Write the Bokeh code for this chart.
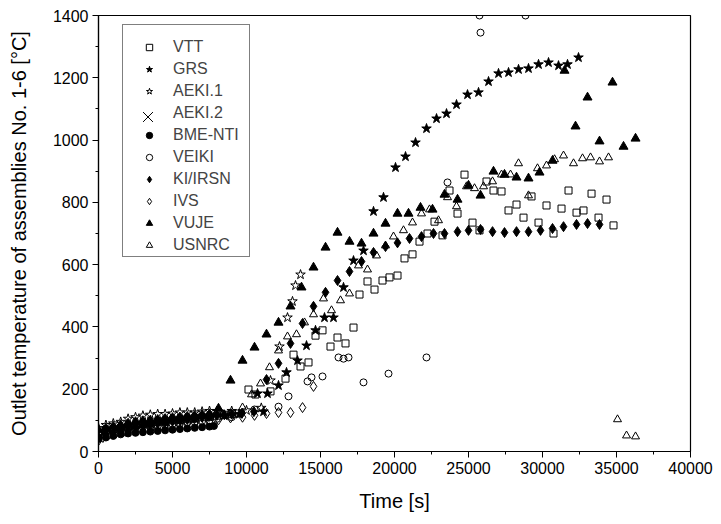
from bokeh.plotting import figure
from bokeh.models import Range1d, SingleIntervalTicker, Legend, LegendItem, ColumnDataSource
from bokeh.embed import file_html
from bokeh.resources import INLINE

# ---------------- data (time [s], temperature [°C]) ----------------
vtt_t = [0, 500, 1000, 1500, 2000, 2500, 3000, 3500, 4000, 4500, 5000, 5500, 6000, 6500, 7000, 7500, 8000, 8500, 9000, 9500,
         10135, 10608, 11622, 12636, 13176, 13650, 14190, 14663, 15136, 15676, 16149, 16690, 17230, 17636, 18176, 18649,
         19190, 19663, 20203, 20676, 21217, 21690, 22230, 22703, 23244, 23717, 24258, 24730, 25271, 25744, 26217, 26690,
         27231, 27704, 28244, 28717, 29258, 29731, 30271, 30744, 31285, 31758, 32299, 32771, 33313, 33785, 34325, 34798]
vtt_v = [60, 68, 72, 75, 80, 85, 88, 90, 95, 98, 100, 102, 105, 108, 110, 112, 115, 118, 120, 122,
         199, 183, 193, 234, 311, 273, 286, 372, 389, 337, 366, 347, 398, 504, 546, 520,
         549, 559, 565, 620, 633, 674, 700, 738, 694, 838, 764, 889, 735, 710, 867, 838,
         835, 774, 793, 751, 819, 735, 790, 700, 780, 838, 767, 774, 828, 751, 809, 726]

grs_t = [500, 1500, 2500, 3500, 4500, 5500, 6500, 7500, 8500, 9500, 10744, 11149, 11419, 12163, 12703, 13447, 14055,
         14663, 15271, 15879, 16555, 17230, 17906, 18582, 19257, 20068, 20744, 21420, 22163, 22839, 23514, 24190,
         24933, 25677, 26353, 27028, 27704, 28380, 29055, 29731, 30407, 31082, 31690, 32433]
grs_v = [65, 75, 85, 90, 95, 100, 105, 110, 115, 120, 186, 128, 186, 212, 254, 292, 340,
         389, 430, 430, 527, 613, 645, 771, 816, 912, 947, 992, 1037, 1069, 1085, 1114,
         1146, 1153, 1188, 1214, 1217, 1227, 1230, 1243, 1249, 1239, 1243, 1265]

aeki1_t = [0, 500, 1000, 1500, 2000, 2500, 3000, 3500, 4000, 4500, 5000, 5500, 6000, 6500, 7000, 7500, 8000, 9000,
           10000, 11000, 11622, 12230, 12771, 13108, 13311, 13650]
aeki1_v = [75, 85, 90, 95, 105, 110, 115, 118, 120, 120, 122, 125, 125, 125, 128, 130, 130, 130,
           132, 140, 228, 337, 430, 482, 533, 568]

aeki2_t = [0, 150, 300, 450]
aeki2_v = [45, 65, 55, 70]

bme_t = [0, 500, 1000, 1500, 2000, 2500, 3000, 3500, 4000, 4500, 5000, 5500, 6000, 6500, 7000, 7500, 7800]
bme_v = [40, 45, 50, 55, 58, 60, 62, 64, 66, 68, 70, 72, 74, 76, 78, 80, 82]

veiki_t = [0, 200, 500, 1000, 1500, 2000, 2500, 3000, 3500, 4000, 4500, 5000, 5500, 6000, 6500, 7000, 7500, 8000, 9000,
           10541, 12163, 12838, 14122, 14393, 15136, 16217, 16555, 16893, 17906, 19595, 22163, 23582, 25812,
           25744, 28852]
veiki_v = [42, 55, 60, 65, 68, 72, 75, 78, 80, 82, 85, 88, 90, 92, 95, 98, 100, 105, 110,
           135, 144, 177, 225, 238, 241, 302, 298, 302, 222, 250, 302, 864, 1345,
           1400, 1400]

ki_t = [0, 500, 1000, 1500, 2000, 2500, 3000, 3500, 4000, 4500, 5000, 5500, 6000, 6500, 7000, 7500, 8000, 8500, 9000,
        9700, 10500, 11352, 12163, 12973, 13785, 14528, 15339, 16149, 16960, 17771, 18582, 19392, 20203, 21014,
        21825, 22636, 23379, 24258, 25000, 25812, 26623, 27433, 28244, 29055, 29866, 30677, 31420, 32299, 33042, 33853]
ki_v = [48, 55, 62, 68, 72, 78, 82, 86, 90, 94, 97, 100, 103, 106, 110, 113, 116, 118, 120,
        123, 128, 231, 283, 347, 411, 466, 511, 549, 578, 610, 639, 658, 670, 684,
        690, 700, 700, 706, 710, 713, 706, 703, 706, 706, 710, 716, 722, 729, 732, 729]

ivs_t = [0, 300, 700, 1200, 1800, 2400, 3000, 3600, 4200, 4800, 5400, 6000, 6600, 7200, 8108, 8919, 9730, 10541,
         11352, 12163, 12973, 13785, 14528]
ivs_v = [35, 45, 55, 60, 65, 70, 75, 78, 82, 86, 90, 93, 96, 98, 102, 108, 110, 116,
         122, 125, 125, 141, 209]

vuje_t = [0, 500, 1000, 1500, 2000, 2500, 3000, 3500, 4000, 4500, 5000, 5500, 6000, 6500, 7000, 7500, 8108, 8919,
          9730, 10541, 11352, 12163, 12973, 13717, 14528, 15339, 16149, 16960, 17771, 18582, 19392, 20203, 20947,
          21757, 22568, 23379, 24258, 25000, 25812, 26690, 27433, 28244, 29055, 29798, 30677, 31488, 32231, 33042,
          33853, 34730, 35475, 36286]
vuje_v = [70, 75, 80, 85, 90, 95, 98, 100, 102, 105, 108, 110, 112, 115, 118, 120, 138, 228,
          292, 334, 376, 414, 466, 527, 591, 655, 703, 674, 668, 700, 732, 764, 764,
          783, 777, 825, 809, 854, 822, 899, 889, 880, 877, 896, 934, 1223, 1044, 1137,
          996, 1185, 979, 1005]

usnrc_t = [0, 400, 900, 1400, 1900, 2400, 2900, 3400, 3900, 4400, 4900, 5400, 5900, 6400, 6900, 7400, 7900, 8400,
           8900, 9730, 10338, 10946, 11554, 12163, 12771, 13379, 13920, 14528, 15203, 15744, 16352, 16960, 17568,
           18176, 18784, 19392, 19933, 20608, 21217, 21825, 22365, 22974, 23582, 24190, 24866, 25406, 26015, 26623,
           27231, 27839, 28380, 29055, 29663, 30271, 30812, 31420, 32096, 32704, 33245, 33853, 34461, 35069, 35677,
           36286]
usnrc_v = [60, 70, 75, 80, 85, 88, 92, 95, 98, 100, 103, 106, 108, 110, 112, 115, 118, 120,
           122, 141, 183, 218, 270, 324, 369, 376, 414, 440, 491, 453, 485, 507, 597,
           584, 629, 661, 690, 710, 735, 764, 777, 742, 816, 787, 851, 845, 851, 867,
           889, 889, 925, 822, 909, 918, 938, 950, 925, 941, 944, 931, 944, 103, 51,
           48]

series = [
    ("VTT", vtt_t, vtt_v, "square", 7, None),
    ("GRS", grs_t, grs_v, "star", 10, "black"),
    ("AEKI.1", aeki1_t, aeki1_v, "star", 10, None),
    ("AEKI.2", aeki2_t, aeki2_v, "x", 8, None),
    ("BME-NTI", bme_t, bme_v, "circle", 7, "black"),
    ("VEIKI", veiki_t, veiki_v, "circle", 7, None),
    ("KI/IRSN", ki_t, ki_v, "diamond", 10, "black"),
    ("IVS", ivs_t, ivs_v, "diamond", 10, None),
    ("VUJE", vuje_t, vuje_v, "triangle", 9, "black"),
    ("USNRC", usnrc_t, usnrc_v, "triangle", 8, None),
]

FONT = "Liberation Sans"

p = figure(width=721, height=524, output_backend="svg", toolbar_location=None,
           x_range=Range1d(0, 40000), y_range=Range1d(0, 1400),
           min_border_left=98, min_border_right=31, min_border_top=15, min_border_bottom=73)
p.xgrid.visible = False
p.ygrid.visible = False
p.outline_line_color = "black"
p.outline_line_width = 1.2
p.background_fill_color = "white"
p.border_fill_color = "white"

p.xaxis.ticker = SingleIntervalTicker(interval=5000, num_minor_ticks=2)
p.yaxis.ticker = SingleIntervalTicker(interval=200, num_minor_ticks=2)
for ax in (p.xaxis[0], p.yaxis[0]):
    ax.axis_line_color = "black"
    ax.axis_line_width = 1.2
    ax.major_tick_in = 0
    ax.major_tick_out = 6
    ax.minor_tick_in = 0
    ax.minor_tick_out = 3
    ax.major_tick_line_color = "black"
    ax.minor_tick_line_color = "black"
    ax.major_label_text_font = FONT
    ax.major_label_text_font_size = "16px"
    ax.major_label_text_color = "black"
    ax.axis_label_text_font = FONT
    ax.axis_label_text_font_size = "20px"
    ax.axis_label_text_font_style = "normal"
    ax.axis_label_text_color = "black"
p.xaxis.axis_label = "Time [s]"
p.yaxis.axis_label = "Outlet temperature of assemblies No. 1-6 [°C]"
p.xaxis.major_label_standoff = 4
p.xaxis.axis_label_standoff = 13
p.yaxis.major_label_standoff = 4
p.yaxis.axis_label_standoff = 20

items = []
aeki2_renderer = None
for name, t, v, marker, size, fill in series:
    src = ColumnDataSource(dict(x=t, y=v))
    r = p.scatter("x", "y", source=src, marker=marker, size=size,
                  line_color="black", line_width=1,
                  fill_color=fill if fill else "white", fill_alpha=1.0 if fill else 0.0)
    if name == "AEKI.2":
        # legend row keeps its label; the large cross is drawn by an overlay legend below
        aeki2_renderer = r
        r_blank = p.scatter("x", "y", source=src, marker="x", size=8, line_alpha=0.0)
        items.append(LegendItem(label=name, renderers=[r_blank]))
    else:
        items.append(LegendItem(label=name, renderers=[r]))

legend = Legend(items=items, location=(24, 194), orientation="vertical",
                border_line_color="black", border_line_width=1,
                background_fill_color="white", background_fill_alpha=1.0,
                label_text_font=FONT, label_text_font_size="16px",
                glyph_height=16, glyph_width=48, label_height=16, label_width=74,
                spacing=4, padding=2, label_standoff=0, margin=0,
                title=" ", title_text_font_size="10px", title_standoff=0)
p.add_layout(legend, "center")

# overlay legend: large cross for AEKI.2 as in the original legend
legend2 = Legend(items=[LegendItem(label=" ", renderers=[aeki2_renderer])], location=(32, 317),
                 border_line_alpha=0.0, background_fill_alpha=0.0,
                 glyph_height=35, glyph_width=35, label_width=0, label_standoff=0,
                 label_text_font_size="1px", label_text_alpha=0.0,
                 padding=0, spacing=0, margin=0)
p.add_layout(legend2, "center")

open("out.html", "w").write(file_html(p, INLINE))
